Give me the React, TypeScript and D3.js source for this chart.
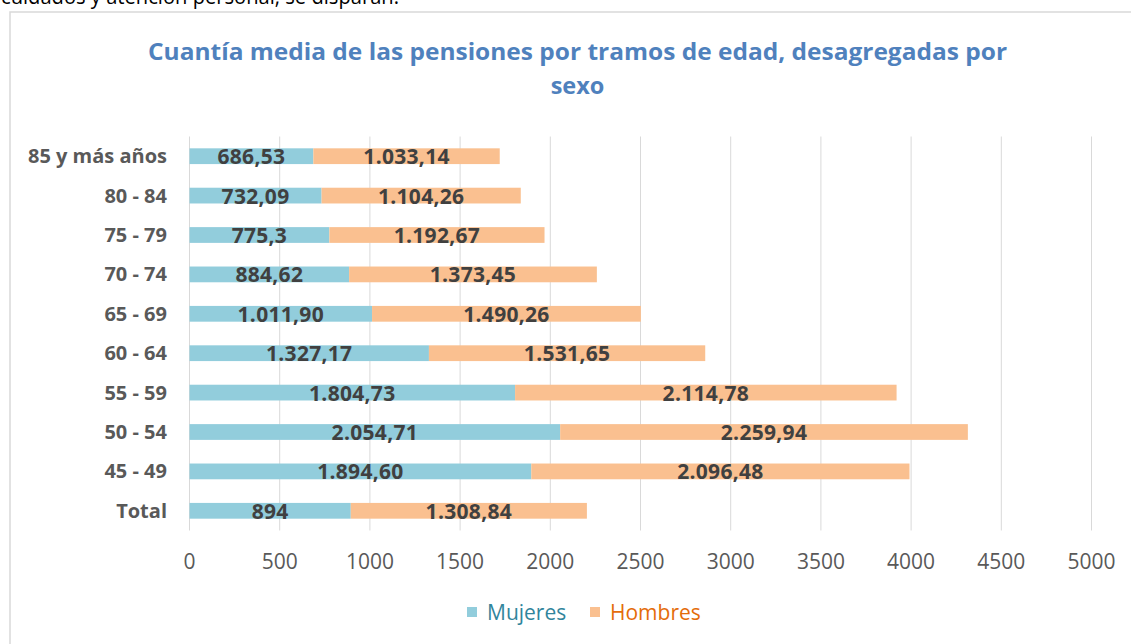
import React from "react";
import * as d3 from "d3";

const categories = ["85 y más años", "80 - 84", "75 - 79", "70 - 74", "65 - 69", "60 - 64", "55 - 59", "50 - 54", "45 - 49", "Total"];
const mujeres = [686.53, 732.09, 775.3, 884.62, 1011.9, 1327.17, 1804.73, 2054.71, 1894.6, 894];
const hombres = [1033.14, 1104.26, 1192.67, 1373.45, 1490.26, 1531.65, 2114.78, 2259.94, 2096.48, 1308.84];
const mujeresLabels = ["686,53", "732,09", "775,3", "884,62", "1.011,90", "1.327,17", "1.804,73", "2.054,71", "1.894,60", "894"];
const hombresLabels = ["1.033,14", "1.104,26", "1.192,67", "1.373,45", "1.490,26", "1.531,65", "2.114,78", "2.259,94", "2.096,48", "1.308,84"];
const xTicks = [0, 500, 1000, 1500, 2000, 2500, 3000, 3500, 4000, 4500, 5000];
const seriesNames = ["Mujeres", "Hombres"];

const W = 1131;
const H = 644;
const FONT = "'Open Sans', sans-serif";

export default function App() {
  const x = d3.scaleLinear().domain([0, 5000]).range([189.5, 1091.5]);
  const y = d3.scaleBand<string>().domain(categories).range([136.5, 530.5]).paddingInner(0.6).paddingOuter(0.3);
  const bh = y.bandwidth();
  const cy = (c: string) => (y(c) as number) + bh / 2;

  return (
    <svg width={W} height={H} style={{ position: "absolute", left: 0, top: 0, background: "#fff" }} fontFamily={FONT}>
      <text x={1} y={4} fontSize={22} fill="#000" textLength={398} lengthAdjust="spacingAndGlyphs">
        cuidados y atención personal, se disparan.
      </text>
      <rect x={10} y={12} width={1200} height={700} fill="#fff" stroke="#d9d9d9" strokeWidth={1.5} />
      <text x={577.5} y={60} textAnchor="middle" fontSize={23.5} fontWeight="bold" fill="#4F81BD" textLength={859} lengthAdjust="spacingAndGlyphs">
        Cuantía media de las pensiones por tramos de edad, desagregadas por
      </text>
      <text x={577.5} y={94} textAnchor="middle" fontSize={23.5} fontWeight="bold" fill="#4F81BD">
        sexo
      </text>
      {xTicks.map((t) => (
        <g key={t}>
          <line x1={x(t)} x2={x(t)} y1={136.5} y2={530.5} stroke="#d9d9d9" strokeWidth={1} />
          <text x={x(t)} y={569} textAnchor="middle" fontSize={21} fill="#595959">
            {t}
          </text>
        </g>
      ))}
      {categories.map((c, i) => (
        <g key={c}>
          <rect x={x(0)} y={y(c)} width={x(mujeres[i]) - x(0)} height={bh} fill="#92CDDC" />
          <rect x={x(mujeres[i])} y={y(c)} width={x(mujeres[i] + hombres[i]) - x(mujeres[i])} height={bh} fill="#FAC090" />
          <text x={167} y={cy(c) + 7} textAnchor="end" fontSize={20} fontWeight="bold" fill="#595959">
            {c}
          </text>
          <text x={x(mujeres[i] / 2)} y={cy(c) + 8} textAnchor="middle" fontSize={21} fontWeight="bold" fill="#404040" letterSpacing={0.3}>
            {mujeresLabels[i]}
          </text>
          <text x={x(mujeres[i] + hombres[i] / 2)} y={cy(c) + 8} textAnchor="middle" fontSize={21} fontWeight="bold" fill="#404040" letterSpacing={0.3}>
            {hombresLabels[i]}
          </text>
        </g>
      ))}
      <g>
        <rect x={467} y={607} width={10} height={10} fill="#92CDDC" />
        <text x={487} y={620} fontSize={21} fill="#31859C">{seriesNames[0]}</text>
        <rect x={590} y={607} width={10} height={10} fill="#FAC090" />
        <text x={610} y={620} fontSize={21} fill="#E46C0A">{seriesNames[1]}</text>
      </g>
    </svg>
  );
}
